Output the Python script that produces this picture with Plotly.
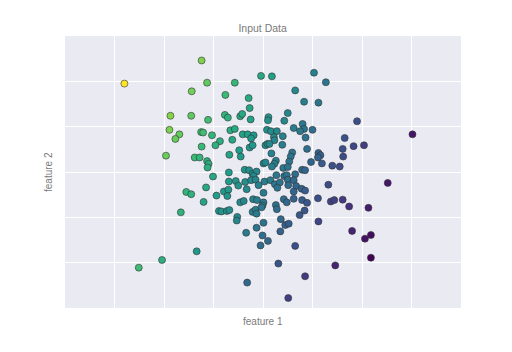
import plotly.graph_objects as go
import numpy as np

# feature 1 / feature 2 values
feature1 = [
    -1.24, -0.04, 0.18, 1.03, 1.27, -2.80, -1.13, -0.57, -1.44, 0.65,
    -0.76, -0.29, 0.83, 1.12, -0.27, 0.50, -1.87, -1.45, -0.77, -0.71,
    -0.46, -0.42, -1.11, -0.25, 0.11, 0.10, 0.43, 1.90, 0.80, 0.62,
    0.83, 0.75, 1.00, -1.89, -1.69, -1.77, -1.25, -1.21, -1.03, -0.66,
    -0.57, -0.41, -0.31, -0.19, -0.24, 0.08, 0.16, 0.28, 0.22, 0.23,
    0.40, 0.86, 3.02, 1.65, -0.87, -0.62, -0.96, -1.24, -0.27, -0.21,
    -0.48, 0.05, 0.09, 0.13, 0.39, 1.61, 1.83, 2.04, 0.89, -1.96,
    -1.38, -1.28, -0.68, -0.45, 0.17, 0.59, 0.56, 1.12, 1.16, 1.11,
    1.62, -1.13, -1.10, -1.12, 0.26, 0.23, 0.53, 0.01, 0.05, 0.18,
    0.97, 1.19, 1.40, 1.55, 0.41, 0.50, 0.79, 0.85, -1.01, -0.69,
    -0.37, -0.28, -0.21, -0.13, -0.19, 0.27, 0.43, 0.48, 0.65, -0.69,
    -0.55, -0.50, -0.36, -0.24, -0.15, -0.09, 0.03, 0.15, 0.24, 0.34,
    0.29, 0.50, 0.51, 0.62, 0.67, 2.52, 1.32, -1.15, -1.55, -1.45,
    -0.79, -0.70, -0.72, -0.94, -0.33, 0.01, 0.62, 0.78, 0.85, -1.20,
    -0.46, -0.39, -0.20, -0.12, 0.01, -0.01, 0.26, 0.28, 0.42, 0.48,
    0.62, 0.79, 0.89, 1.11, 1.37, 1.44, 1.61, 1.74, 2.13, -1.66,
    -0.89, -0.84, -0.73, -0.68, -0.52, -0.53, -0.21, -0.15, -0.13, -0.03,
    0.74, 0.84, 0.36, 1.12, 0.01, 0.45, 0.52, -0.13, -0.34, 0.35,
    1.80, -0.01, 2.18, 2.06, 0.10, -0.05, 0.65, -1.34, -2.04, 2.18,
    -2.51, 0.31, 1.46, 0.85, -0.32, 0.51,
]
feature2 = [
    2.46, 2.12, 2.11, 2.19, 1.98, 1.95, 1.97, 1.97, 1.78, 1.80,
    1.70, 1.63, 1.55, 1.53, 1.41, 1.30, 1.24, 1.24, 1.26, 1.20,
    1.23, 1.28, 1.15, 1.16, 1.21, 1.14, 1.13, 1.12, 1.06, 0.97,
    0.95, 0.90, 0.93, 0.93, 0.83, 0.73, 0.88, 0.87, 0.81, 0.92,
    0.95, 0.83, 0.83, 0.81, 0.74, 0.93, 0.90, 0.90, 0.77, 0.70,
    0.79, 0.76, 0.83, 0.75, 0.68, 0.71, 0.59, 0.56, 0.54, 0.59,
    0.48, 0.59, 0.62, 0.62, 0.60, 0.51, 0.57, 0.59, 0.51, 0.36,
    0.32, 0.32, 0.38, 0.34, 0.41, 0.43, 0.34, 0.42, 0.37, 0.32,
    0.34, 0.24, 0.18, 0.10, 0.25, 0.18, 0.23, 0.19, 0.21, 0.12,
    0.22, 0.19, 0.14, 0.12, 0.09, 0.11, 0.05, 0.04, -0.10, -0.01,
    0.05, 0.04, -0.04, 0.01, -0.09, -0.07, -0.09, -0.07, -0.05, -0.21,
    -0.20, -0.30, -0.22, -0.18, -0.17, -0.29, -0.21, -0.18, -0.27, -0.23,
    -0.35, -0.17, -0.29, -0.18, -0.31, -0.24, -0.28, -0.34, -0.44, -0.49,
    -0.43, -0.39, -0.53, -0.52, -0.38, -0.46, -0.43, -0.37, -0.41, -0.66,
    -0.67, -0.64, -0.60, -0.62, -0.67, -0.74, -0.73, -0.82, -0.60, -0.67,
    -0.59, -0.62, -0.68, -0.58, -0.65, -0.62, -0.61, -0.76, -0.79, -0.89,
    -0.86, -0.87, -0.86, -0.84, -0.99, -1.07, -0.88, -0.83, -0.92, -0.78,
    -0.95, -0.85, -1.04, -1.09, -1.12, -1.17, -1.14, -1.23, -1.34, -1.31,
    -1.30, -1.40, -1.39, -1.47, -1.52, -1.62, -1.63, -1.75, -1.94, -1.89,
    -2.11, -2.02, -2.06, -2.30, -2.44, -2.78,
]

# colour = projection of each point on the dominant direction (as in the original)
projection_dir = [-1.0, 0.45]

x = np.array(feature1)
y = np.array(feature2)
color_value = x * projection_dir[0] + y * projection_dir[1]

fig = go.Figure()
fig.add_trace(go.Scatter(
    x=x, y=y, mode="markers",
    marker=dict(
        size=7,
        color=color_value,
        colorscale="Viridis",
        line=dict(color="#333333", width=0.6),
    ),
    showlegend=False,
    hoverinfo="skip",
))

text_color = "#7a7a7a"
fig.update_layout(
    width=512, height=352,
    margin=dict(l=65, r=51, t=36, b=44),
    paper_bgcolor="white",
    plot_bgcolor="#EAEAF2",
    font=dict(family="Liberation Sans, Arial, sans-serif", color=text_color),
    title=dict(text="Input Data", x=0.513, xanchor="center",
               y=1 - 28 / 352, yanchor="middle",
               font=dict(size=10.5, color=text_color)),
    xaxis=dict(range=[-4, 4], tickvals=[-3, -2, -1, 0, 1, 2, 3],
               showticklabels=False, ticks="", gridcolor="white",
               gridwidth=1.2, zeroline=False, showline=False, fixedrange=True),
    yaxis=dict(range=[-3, 3], tickvals=[-2, -1, 0, 1, 2],
               showticklabels=False, ticks="", gridcolor="white",
               gridwidth=1.2, zeroline=False, showline=False, fixedrange=True),
    annotations=[
        dict(text="feature 1", xref="paper", yref="paper", x=0.5, y=-0.05,
             xanchor="center", yanchor="middle", showarrow=False,
             font=dict(size=10, color=text_color)),
        dict(text="feature 2", xref="paper", yref="paper", x=-0.043, y=0.5,
             xanchor="center", yanchor="middle", showarrow=False, textangle=-90,
             font=dict(size=10, color=text_color)),
    ],
)

fig.write_html("out.html")
